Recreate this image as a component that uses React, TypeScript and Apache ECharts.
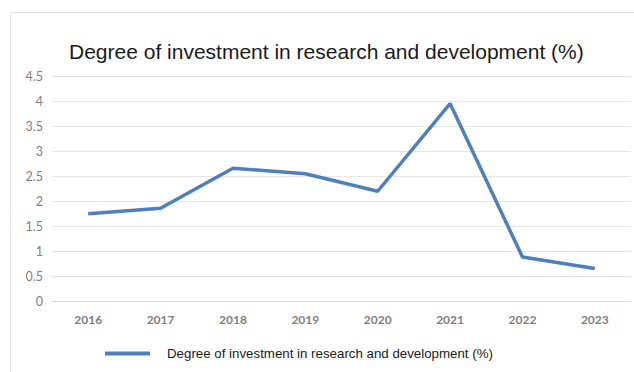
import React, { useEffect, useRef } from "react";
import * as echarts from "echarts";

const categories = ["2016", "2017", "2018", "2019", "2020", "2021", "2022", "2023"];
const seriesName = "Degree of investment in research and development (%)";
const values = [1.75, 1.86, 2.66, 2.55, 2.2, 3.95, 0.89, 0.66];
const titleText = "Degree of investment in research and development (%)";

export default function App() {
  const ref = useRef<HTMLDivElement>(null);
  useEffect(() => {
    document.body.style.margin = "0";
    const chart = echarts.init(ref.current!, null, { renderer: "svg" });
    chart.setOption({
      animation: false,
      backgroundColor: "#ffffff",
      title: {
        text: titleText,
        left: 64,
        top: 36,
        textStyle: {
          fontFamily: "Liberation Sans",
          fontSize: 21,
          fontWeight: "normal",
          color: "#1a1a1a",
        },
      },
      graphic: [
        {
          type: "rect",
          shape: { x: 10.5, y: 12.5, width: 640, height: 400 },
          style: { fill: "none", stroke: "#e3e3e3", lineWidth: 1 },
          silent: true,
        },
      ],
      legend: {
        left: 100,
        top: 342,
        itemWidth: 45,
        itemHeight: 4,
        itemGap: 10,
        icon: "rect",
        textStyle: {
          fontFamily: "Liberation Sans",
          fontSize: 13.3,
          color: "#1a1a1a",
          padding: [0, 0, 0, 12],
        },
        data: [seriesName],
      },
      grid: { left: 52, right: 3, top: 76, bottom: 70.5 },
      xAxis: {
        type: "category",
        data: categories,
        boundaryGap: true,
        axisLine: { show: true, lineStyle: { color: "#d9d9d9" } },
        axisTick: { show: false },
        axisLabel: {
          color: "#808080",
          fontFamily: "Lato",
          fontWeight: "bold",
          fontSize: 12,
          margin: 12,
        },
      },
      yAxis: {
        type: "value",
        min: 0,
        max: 4.5,
        interval: 0.5,
        axisLine: { show: false },
        axisTick: { show: false },
        splitLine: { lineStyle: { color: "#e6e6e6" } },
        axisLabel: {
          color: "#7f7f7f",
          fontFamily: "Lato",
          fontSize: 12.5,
          margin: 9,
        },
      },
      series: [
        {
          name: seriesName,
          type: "line",
          data: values,
          symbol: "none",
          lineStyle: { color: "#4f7fbc", width: 3.5 },
          itemStyle: { color: "#4f7fbc" },
        },
      ],
    });
    return () => chart.dispose();
  }, []);
  return (
    <div
      ref={ref}
      style={{ position: "absolute", left: 0, top: 0, width: 634, height: 372 }}
    />
  );
}
